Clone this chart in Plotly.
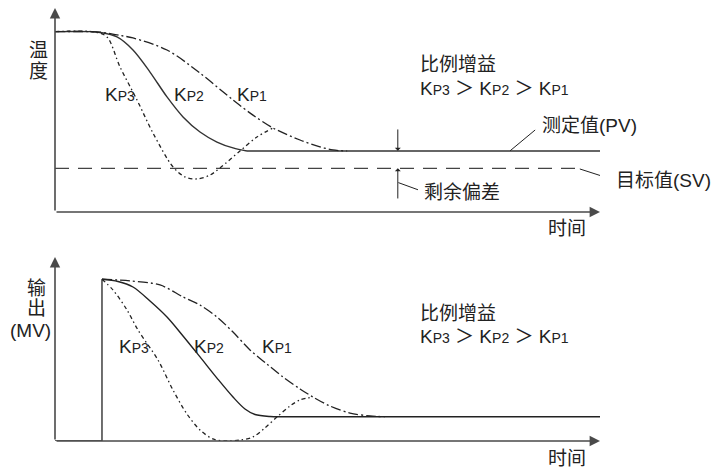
import plotly.graph_objects as go

# ---------------- data (time t, value v) ----------------
# Top panel: temperature response (PV) for three proportional gains
t_kp1_top = [0, 8.26, 11.38, 14.31, 20.55, 26.61, 32.66, 36.33, 40.0, 44.95, 48.62, 51.0, 53.6]
v_kp1_top = [88.4, 88.2, 86.8, 85.3, 79.4, 68.1, 54.9, 47.5, 41.2, 35.3, 31.9, 30.4, 29.9]

t_kp2_top = [0, 6.42, 8.26, 11.38, 14.31, 17.43, 20.55, 23.49, 26.61, 29.72, 32.66, 35.23, 100.4]
v_kp2_top = [88.4, 88.4, 88.0, 85.8, 79.4, 68.6, 56.4, 46.6, 39.2, 34.3, 31.4, 29.9, 29.9]

t_kp3_top = [0, 7.34, 9.54, 11.93, 15.05, 17.98, 21.65, 23.85, 26.06, 28.44, 30.28, 33.94, 37.06, 40.0]
v_kp3_top = [88.4, 88.2, 85.8, 71.1, 54.9, 38.7, 22.1, 17.2, 16.2, 18.1, 21.6, 29.9, 36.8, 41.2]

sv_t = [0, 96.9]
sv_v = [21.4, 21.4]

# Bottom panel: manipulated output (MV)
step_t = [0, 8.62, 8.62]
step_v = [0, 0, 87.9]

t_kp1_bot = [8.62, 13.76, 19.27, 23.49, 26.61, 29.72, 32.66, 35.78, 38.9, 41.83, 44.95, 47.34, 50.46, 54.13, 57.8, 60.55]
v_kp1_bot = [87.9, 87.0, 84.8, 78.3, 73.9, 67.4, 59.2, 49.5, 41.8, 34.8, 28.3, 23.9, 19.0, 15.2, 13.6, 13.2]

t_kp2_bot = [8.62, 11.56, 14.31, 17.43, 20.55, 23.49, 26.61, 29.72, 32.66, 34.86, 36.70, 39.45, 42.2, 100.4]
v_kp2_bot = [87.9, 86.7, 83.7, 76.1, 67.4, 57.1, 45.7, 34.2, 23.9, 17.4, 14.4, 13.3, 13.2, 13.2]

t_kp3_bot = [8.62, 10.64, 13.21, 15.23, 18.9, 21.65, 24.2, 26.61, 29.0, 31.56, 33.94, 36.33, 38.5, 40.73, 43.1, 44.95, 47.34]
v_kp3_bot = [87.9, 82.1, 71.2, 60.3, 44.0, 27.7, 14.7, 6.0, 1.1, 0, 0.5, 2.2, 7.1, 13.0, 19.0, 22.3, 23.9]

# ---------------- text ----------------
gain_title = "比例增益"
gain_order = "K<span style='font-size:14px'>P3</span> ＞ K<span style='font-size:14px'>P2</span> ＞ K<span style='font-size:14px'>P1</span>"
kp_labels = ["K<span style='font-size:14px'>P3</span>",
             "K<span style='font-size:14px'>P2</span>",
             "K<span style='font-size:14px'>P1</span>"]

FONT = "Liberation Sans, Arial, Noto Sans CJK SC"
INK = "#222222"
AX = "#4a4a4a"

fig = go.Figure()

def line(t, v, xa, ya, dash="solid", color=INK, width=1.3, shape="spline"):
    fig.add_trace(go.Scatter(x=t, y=v, xaxis=xa, yaxis=ya, mode="lines",
                             line=dict(color=color, width=width, dash=dash, shape=shape, smoothing=0.9),
                             hoverinfo="skip", showlegend=False))

DASH_KP1 = "10px,3px,2px,3px"
DASH_KP3 = "4px,3px,1.5px,3px"

# top panel
line(sv_t, sv_v, "x", "y", dash="14px,9px", color="#444444", width=1.3, shape="linear")
line(t_kp2_top[:-1], v_kp2_top[:-1], "x", "y", color="#333333", width=1.4)
line(t_kp2_top[-2:], v_kp2_top[-2:], "x", "y", color="#333333", width=1.4, shape="linear")
line(t_kp1_top, v_kp1_top, "x", "y", dash=DASH_KP1)
line(t_kp3_top, v_kp3_top, "x", "y", dash=DASH_KP3)

# bottom panel
line(step_t, step_v, "x2", "y2", color="#333333", width=1.4, shape="linear")
line(t_kp2_bot[:-1], v_kp2_bot[:-1], "x2", "y2", color="#222222", width=1.4)
line(t_kp2_bot[-2:], v_kp2_bot[-2:], "x2", "y2", color="#222222", width=1.4, shape="linear")
line(t_kp1_bot, v_kp1_bot, "x2", "y2", dash=DASH_KP1)
line(t_kp3_bot, v_kp3_bot, "x2", "y2", dash=DASH_KP3)

ann = []

def arrow(xr, yr, x, y, ax, ay, head=2, size=1.3, width=1.6, color=AX):
    ann.append(dict(xref=xr, yref=yr, axref=xr, ayref=yr, x=x, y=y, ax=ax, ay=ay,
                    text="", showarrow=True, arrowhead=head, arrowsize=size,
                    arrowwidth=width, arrowcolor=color, standoff=0, startstandoff=0))

# axes with arrows
arrow("x", "y", 0, 100, 0, 0)
arrow("x", "y", 100, 0, 0, 0)
arrow("x2", "y2", 0, 100, 0, 0)
arrow("x2", "y2", 100, 0, 0, 0)

# residual offset arrows
arrow("x", "y", 62.9, 30.0, 62.9, 41.2, head=1, size=1.0, width=1.0, color=INK)
arrow("x", "y", 62.9, 21.4, 62.9, 5.9, head=1, size=1.0, width=1.0, color=INK)

def text(xr, yr, x, y, s, size=19, xanchor="left", yanchor="middle"):
    ann.append(dict(xref=xr, yref=yr, x=x, y=y, text=s, showarrow=False,
                    xanchor=xanchor, yanchor=yanchor,
                    font=dict(family=FONT, size=size, color=INK)))

# curve labels top
for tx, s in zip([8.8, 21.5, 33.0], kp_labels):
    text("x", "y", tx, 57.8, s, size=19)
# curve labels bottom
for tx, s in zip([11.4, 25.1, 37.6], kp_labels):
    text("x2", "y2", tx, 51.1, s, size=19)

# gain texts
text("x", "y", 66.6, 72.3, gain_title, size=19)
text("x", "y", 66.6, 60.5, gain_order, size=19)
text("x2", "y2", 66.6, 69.3, gain_title, size=19)
text("x2", "y2", 66.6, 56.6, gain_order, size=19)

# PV / SV / offset labels
text("x", "y", 89.0, 42.2, "测定值(PV)")
text("paper", "paper", 614 / 712, 1 - 180 / 469, "目标值(SV)")
text("x", "y", 67.3, 9.8, "剩余偏差")

# time labels
text("paper", "paper", 566.5 / 712, 1 - 228 / 469, "时间", xanchor="center")
text("paper", "paper", 566.5 / 712, 1 - 458 / 469, "时间", xanchor="center")

# y-axis titles
text("paper", "paper", 38 / 712, 1 - 50 / 469, "温", xanchor="center")
text("paper", "paper", 38 / 712, 1 - 71 / 469, "度", xanchor="center")
text("paper", "paper", 36 / 712, 1 - 288.5 / 469, "输", xanchor="center")
text("paper", "paper", 36 / 712, 1 - 308.5 / 469, "出", xanchor="center")
text("paper", "paper", 30 / 712, 1 - 330 / 469, "(MV)", xanchor="center")

shapes = [
    dict(type="line", xref="x", yref="y", x0=83.5, y0=30.0, x1=88.1, y1=40.2,
         line=dict(color=INK, width=1)),
    dict(type="line", xref="x", yref="y", x0=96.3, y0=21.1, x1=101.4, y1=16.7,
         line=dict(color=INK, width=1)),
    dict(type="line", xref="x", yref="y", x0=63.0, y0=14.4, x1=66.6, y1=10.9,
         line=dict(color=INK, width=1)),
]

xd = [55 / 712, 600 / 712]
axis_common = dict(visible=False, range=[0, 100], fixedrange=True)
fig.update_layout(
    width=712, height=469,
    margin=dict(l=0, r=0, t=0, b=0),
    paper_bgcolor="white", plot_bgcolor="white",
    xaxis=dict(domain=xd, anchor="y", **axis_common),
    yaxis=dict(domain=[1 - 212 / 469, 1 - 8 / 469], anchor="x", **axis_common),
    xaxis2=dict(domain=xd, anchor="y2", **axis_common),
    yaxis2=dict(domain=[1 - 441 / 469, 1 - 257 / 469], anchor="x2", **axis_common),
    annotations=ann,
    shapes=shapes,
    showlegend=False,
)

fig.write_html("out.html", config={"displayModeBar": False},
               post_script="document.body.style.margin='0px';document.body.style.overflow='hidden';")
